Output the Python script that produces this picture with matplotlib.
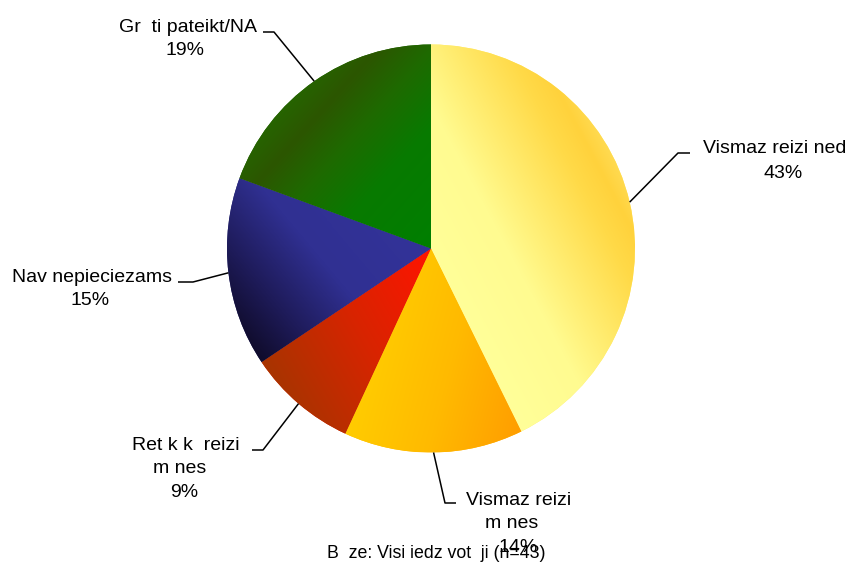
import numpy as np
import matplotlib
matplotlib.use('Agg')
import matplotlib.pyplot as plt
from matplotlib.colors import LinearSegmentedColormap

plt.rcParams['font.family'] = ['Liberation Sans', 'DejaVu Sans']

# Data (clockwise from 12 o'clock)
categories = ['Vismaz reizi ned', 'Vismaz reizi\nm nes', 'Ret k k  reizi\nm nes',
              'Nav nepieciezams', 'Gr  ti pateikt/NA']
shares = [42.7, 14.2, 8.7, 15.0, 19.4]
footer = 'B  ze: Visi iedz vot  ji (n=43)'

# gradient styling per slice: (direction angle, [(pos, colour), ...])
gradients = [
    (28, [(0.0, '#FFFF99'), (0.35, '#FFFB90'), (0.8, '#FFDA48'), (0.92, '#FFD23C'), (1.0, '#FFDA50')]),
    (-15, [(0.0, '#FFCC00'), (0.5, '#FFBA00'), (1.0, '#FF9E00')]),
    (30, [(0.0, '#A83400'), (0.5, '#D82400'), (1.0, '#FF1400')]),
    (220, [(0.0, '#333399'), (0.45, '#303092'), (0.75, '#1F1C5C'), (1.0, '#100C2C')]),
    (138, [(0.0, '#007F00'), (0.4, '#087A00'), (0.65, '#1E6A00'), (0.85, '#2C5600'), (1.0, '#266400')]),
]
base_colors = ['#FFEE70', '#FFB800', '#E02000', '#252470', '#1A6A00']

W, H = 852, 565
CX, CY, R = 431, 248.5, 204   # image coords of pie centre


def fy(y):
    return H - y


fig = plt.figure(figsize=(W / 100, H / 100), dpi=100)
ax = fig.add_axes([0, 0, 1, 1])

wedges, _ = ax.pie(shares, startangle=90, counterclock=False, radius=R,
                   center=(CX, fy(CY)), colors=base_colors,
                   wedgeprops=dict(linewidth=0))

# gradient fill clipped to each wedge, normalised over the wedge's own extent
n = 400
xs = np.linspace(-1, 1, n)
gx, gy = np.meshgrid(xs, xs)
gang = np.degrees(np.arctan2(gy, gx))
grad = np.hypot(gx, gy)
for w, (ang, stops) in zip(wedges, gradients):
    a = np.deg2rad(ang)
    p = gx * np.cos(a) + gy * np.sin(a)
    inside = (((gang - w.theta1) % 360) <= (w.theta2 - w.theta1)) & (grad <= 1)
    pmin, pmax = p[inside].min(), p[inside].max()
    t = np.clip((p - pmin) / (pmax - pmin), 0, 1)
    cmap = LinearSegmentedColormap.from_list('g', stops)
    im = ax.imshow(cmap(t), extent=(CX - R, CX + R, fy(CY) - R, fy(CY) + R),
                   origin='lower', interpolation='bilinear', zorder=2)
    im.set_clip_path(w)

# leader lines: from slice rim (mid angle) to elbow, then short horizontal
elbows = [((678, 153), (690, 153)),
          ((445, 503), (456, 503)),
          ((263, 450), (252, 450)),
          ((193, 282), (178, 282)),
          ((274, 32), (263, 32))]
for w, (e1, e2) in zip(wedges, elbows):
    mid = np.deg2rad((w.theta1 + w.theta2) / 2)
    sx, sy = CX + R * np.cos(mid), fy(CY) + R * np.sin(mid)
    ax.plot([sx, e1[0], e2[0]], [sy, fy(e1[1]), fy(e2[1])], color='black',
            lw=1.1, zorder=3, solid_capstyle='butt')

# labels, line by line: (centre x, baseline y) in image coords
label_pos = [[(775, 153), (783, 178)],
             [(519, 505), (512, 528), (518, 552)],
             [(186, 450), (180, 473), (184, 497)],
             [(92, 282), (90, 305)],
             [(188, 32), (185, 55)]]
for cat, v, pos in zip(categories, shares, label_pos):
    lines = cat.split('\n') + [f'{round(v)}%']
    for line, (x, y) in zip(lines, pos):
        ax.text(x, fy(y), line, ha='center', va='baseline', fontsize=14,
                color='black', zorder=4)

ax.text(436, fy(558), footer, ha='center', va='baseline', fontsize=12.8,
        color='black', zorder=4)

ax.set_xlim(0, W)
ax.set_ylim(0, H)
ax.set_aspect('equal')
ax.axis('off')

fig.savefig('out.png', dpi=100, facecolor='white')
